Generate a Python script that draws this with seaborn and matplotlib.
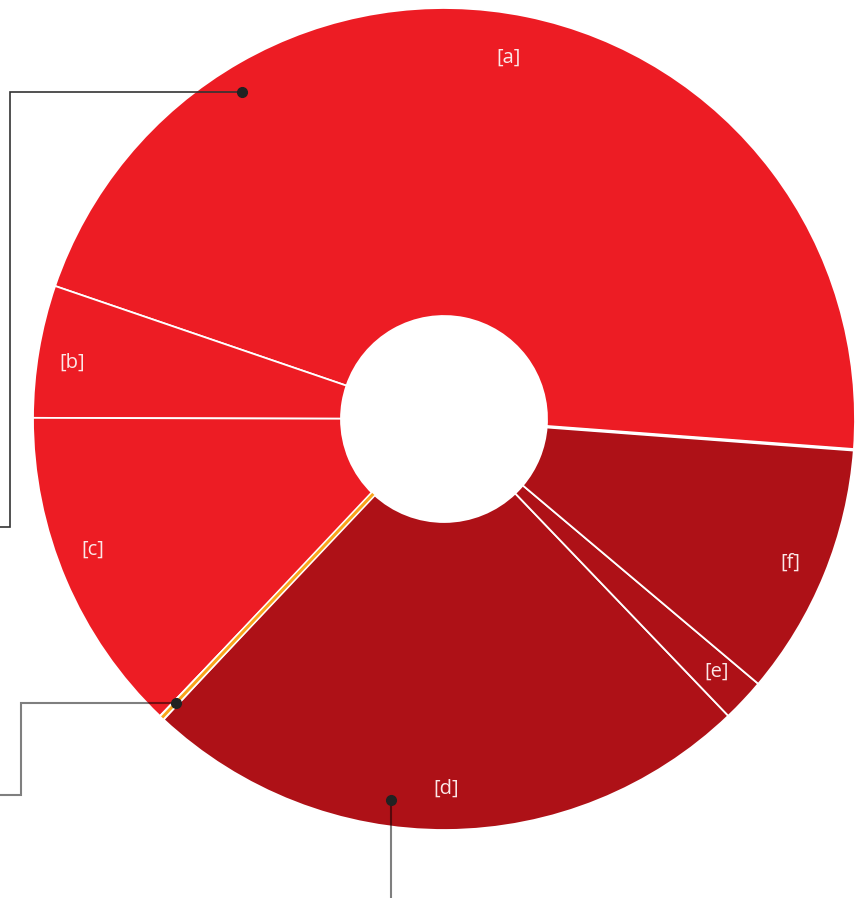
import numpy as np
import matplotlib
matplotlib.use("Agg")
import matplotlib.pyplot as plt
import seaborn as sns

# Shares of the ring, counter-clockwise from the first slice
categories = ["[a]", "[b]", "[c]", "", "[d]", "[e]", "[f]"]
shares = [45.95, 5.2, 12.9, 0.2, 24.1, 1.7, 9.95]
slice_colors = ["#ED1C24", "#ED1C24", "#ED1C24", "#F9A51B", "#AE1117", "#AE1117", "#AE1117"]

# Where each slice label sits (degrees, fraction of outer radius)
label_angle = [79.8, 171.4, 200.4, 0.0, 270.3, 317.1, 337.4]
label_rfrac = [0.892, 0.916, 0.911, 0.0, 0.900, 0.904, 0.912]

# Leader lines: anchor angle (degrees) and fraction of outer radius
callout_angle = [121.7, 226.6, 262.0]
callout_rfrac = [0.935, 0.95, 0.935]

sns.set_theme(style="white")
plt.rcParams["font.family"] = ["Open Sans", "DejaVu Sans"]

W, H = 862, 898
fig = plt.figure(figsize=(W / 100, H / 100), dpi=100)
ax = fig.add_axes([0, 0, 1, 1])

cx, cy = 444, H - 419
R_out, R_in = 411, 103
start = -4.3

wedges, texts = ax.pie(
    shares,
    colors=slice_colors,
    startangle=start,
    counterclock=True,
    radius=R_out,
    center=(cx, cy),
    wedgeprops=dict(width=R_out - R_in, edgecolor="white", linewidth=1.3),
)

def polar(ang, frac):
    t = np.deg2rad(ang)
    return cx + frac * R_out * np.cos(t), cy + frac * R_out * np.sin(t)

def spoke(ang, color, lw, z):
    t = np.deg2rad(ang)
    ax.plot([cx + R_in * np.cos(t), cx + (R_out - 0.5) * np.cos(t)],
            [cy + R_in * np.sin(t), cy + (R_out - 0.5) * np.sin(t)],
            color=color, lw=lw, solid_capstyle="butt", zorder=z)

# wider white seam between the first and last slices
spoke(start, "white", 2.4, 3)

# the thin orange slice, drawn as a band with white margins
bounds = start + 360 * np.cumsum([0] + shares) / sum(shares)
mid_orange = (bounds[3] + bounds[4]) / 2
spoke(mid_orange, "white", 4.4, 3)
spoke(mid_orange, slice_colors[3], 2.1, 3.1)

# slice labels
for lab, a, f in zip(categories, label_angle, label_rfrac):
    if lab:
        x, y = polar(a, f)
        ax.text(x, y, lab, color="#FBE8E8", fontsize=14.5, ha="center", va="center", zorder=4)

# leader 1
x0, y0 = polar(callout_angle[0], callout_rfrac[0])
ax.plot([x0, 10, 10, -5], [y0, y0, H - 527, H - 527], color="#333333", lw=1.2,
        solid_joinstyle="miter", zorder=4, clip_on=False)
ax.plot([x0], [y0], "o", color="#222222", ms=7, zorder=5)

# leader 2
x1, y1 = polar(callout_angle[1], callout_rfrac[1])
ax.plot([x1, 21, 21, -5], [y1, y1, H - 795, H - 795], color="black", alpha=0.5, lw=1.5,
        solid_joinstyle="miter", zorder=4, clip_on=False)
ax.plot([x1], [y1], "o", color="#222222", ms=7, zorder=5)

# leader 3
x2, y2 = polar(callout_angle[2], callout_rfrac[2])
ax.plot([x2, x2], [y2, -5], color="black", alpha=0.5, lw=1.5, zorder=4, clip_on=False)
ax.plot([x2], [y2], "o", color="#222222", ms=7, zorder=5)

ax.set_xlim(0, W)
ax.set_ylim(0, H)
ax.set_aspect("equal")
ax.axis("off")

fig.savefig("out.png", dpi=100, facecolor="white")
